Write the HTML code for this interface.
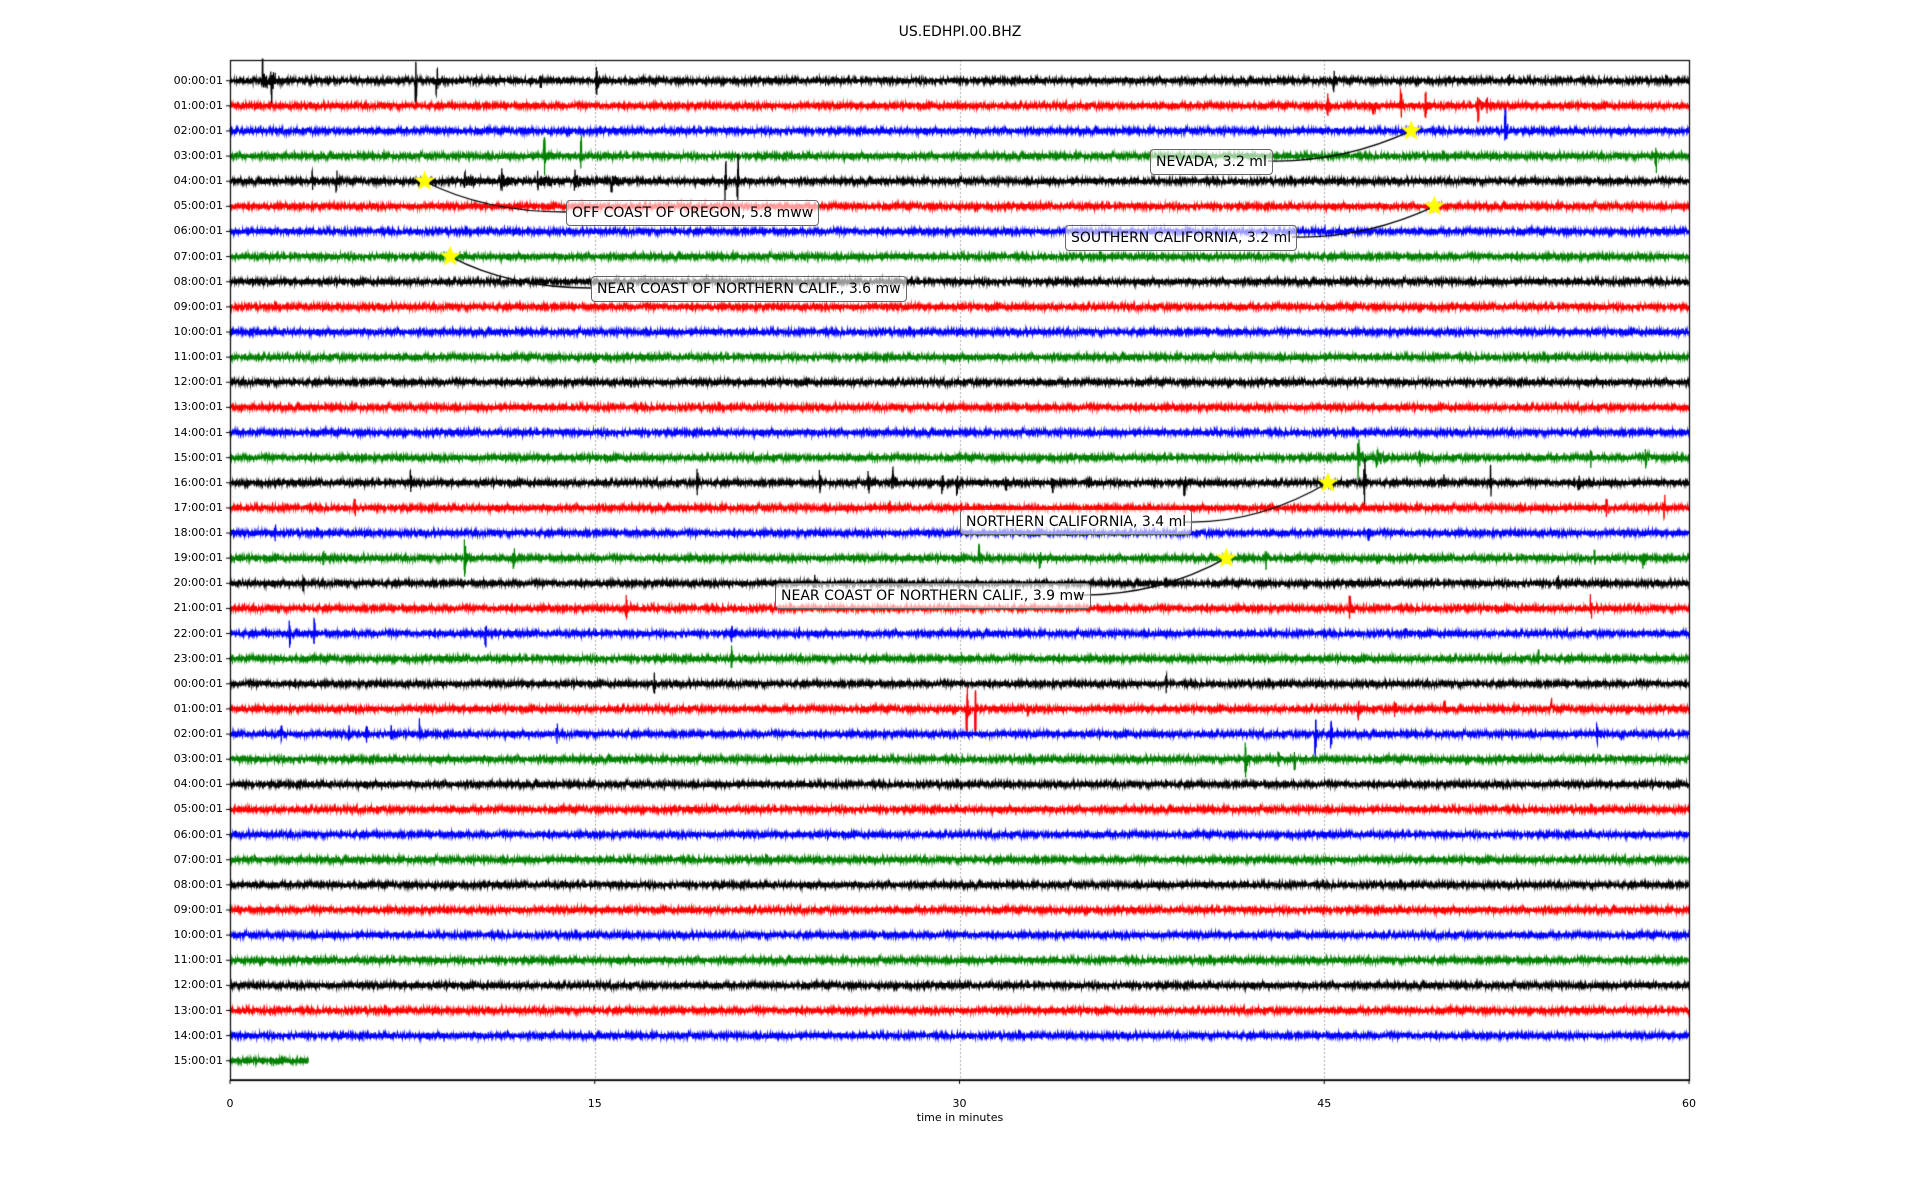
<!DOCTYPE html>
<html><head><meta charset="utf-8">
<style>
html,body{margin:0;padding:0;background:#fff;}
#c{position:absolute;left:0;top:0;}
.t{position:absolute;font-family:"DejaVu Sans","Liberation Sans",sans-serif;color:#000;white-space:nowrap;}
.lab{position:absolute;font-family:"DejaVu Sans","Liberation Sans",sans-serif;font-size:14px;line-height:14px;padding:5px 5px;border:1.3px solid #666;border-radius:4px;background:rgba(255,255,255,0.6);white-space:nowrap;}
</style></head>
<body>
<canvas id="c" width="1920" height="1200"></canvas>
<div class="t" style="left:0;width:1920px;text-align:center;top:24px;font-size:14px;">US.EDHPI.00.BHZ</div>
<div id="yl"></div>
<div class="t" style="left:900px;width:120px;text-align:center;top:1111px;font-size:11px;">time in minutes</div>
<div class="lab" style="left:1150px;top:149px;">NEVADA, 3.2 ml</div>
<div class="lab" style="left:566px;top:200px;">OFF COAST OF OREGON, 5.8 mww</div>
<div class="lab" style="left:1065px;top:225px;">SOUTHERN CALIFORNIA, 3.2 ml</div>
<div class="lab" style="left:591px;top:276px;">NEAR COAST OF NORTHERN CALIF., 3.6 mw</div>
<div class="lab" style="left:960px;top:509px;">NORTHERN CALIFORNIA, 3.4 ml</div>
<div class="lab" style="left:775px;top:583px;">NEAR COAST OF NORTHERN CALIF., 3.9 mw</div>
<script>
var L=230,R=1689,T=60,B=1080,W=R-L;
var cv=document.getElementById('c'),g=cv.getContext('2d');
function X(m){return L+m/60*W;}
function Y(i){return 80.7+i*25.13;}
function xd(d){return (d-188)/1192*60;}
var seed=12345;function rnd(){seed=(seed*1103515245+12345)&0x7fffffff;return seed/0x7fffffff;}
function gauss(){return (rnd()+rnd()+rnd()-1.5)*2.6;}
g.strokeStyle='#999';g.lineWidth=0.8;g.setLineDash([2,2]);
[15,30,45].forEach(function(m){g.beginPath();g.moveTo(Math.round(X(m))+0.5,T);g.lineTo(Math.round(X(m))+0.5,B);g.stroke();});
g.setLineDash([]);
var cols=['#000','#f00','#00f','#008000'];
var ev={0:[[215,12,8],[222,12,6],[340,14,1],[357,-10,1],[488,8,4],[442,5,2],[1090,6,3],[1233,4,1]],
1:[[1085,8,3],[1122,8,4],[1145,8,3],[1165,9,3],[1208,9,5],[1215,7,3]],
2:[[1230,14,4]],
3:[[445,10,3],[475,10,2],[1353,10,2]],
4:[[255,6,5],[275,6,3],[380,6,20],[410,6,20],[440,6,20],[470,7,15],[500,7,10],[593,14,1],[603,14,1]],
15:[[1110,12,6],[1125,8,8],[1160,6,5],[1300,5,3],[1345,6,6],[1370,6,3]],
16:[[336,6,1],[570,7,2],[670,8,2],[710,6,4],[730,8,3],[770,8,2],[782,-10,2],[822,6,2],[860,7,2],[890,6,2],[968,8,2],[1115,14,3],[1180,6,2],[1218,10,2],[1290,8,2]],
17:[[290,6,2],[727,4,2],[1313,6,2],[1360,10,2]],
18:[[225,4,2],[1118,6,2]],
19:[[265,5,4],[380,10,2],[420,6,2],[800,8,3],[850,6,2],[1035,6,2],[1303,6,1],[1343,6,1]],
20:[[248,6,2],[666,6,1],[953,4,1],[1273,6,2]],
21:[[512,8,2],[1103,8,3],[1200,4,1],[1300,8,2]],
22:[[237,8,1],[257,8,1],[397,8,1],[598,6,2],[653,4,1],[1148,4,1]],
23:[[598,6,2],[1257,6,2]],
24:[[535,6,3],[953,6,1]],
25:[[790,16,3],[797,14,2],[840,5,3],[1110,6,4],[1140,5,4],[1180,5,4],[1268,5,2]],
26:[[230,5,3],[285,5,2],[300,5,3],[320,5,2],[343,12,1],[455,6,2],[1075,12,2],[1088,8,2],[1305,6,1],[1325,4,1]],
27:[[1018,10,4],[1045,6,2],[1058,6,2]]};
g.lineWidth=1.2;
for(var i=0;i<40;i++){
  var y0=Y(i),end=(i==39)?X(xd(252)):R;
  var e=(ev[i]||[]).map(function(a){return [X(xd(a[0])),a[1],a[2]*1.24];});
  g.strokeStyle=cols[i%4];g.beginPath();
  for(var x=L;x<=end;x+=0.2){
    var v=gauss();
    for(var k=0;k<e.length;k++){var d=x-e[k][0];if(d>-1&&d<e[k][2]*2){var env=Math.exp(-Math.max(d,0)/(e[k][2]*0.6+0.3));var a=e[k][1];v+=Math.abs(a)*env*(rnd()*2-1);if(d>-1&&d<0.6)v+=a*(rnd()>0.5?1:-1)*0.9;}}
    if(x==L)g.moveTo(x,y0+v);else g.lineTo(x,y0+v);
  }
  g.stroke();
}
g.strokeStyle='#000';g.lineWidth=1.2;g.strokeRect(L+0.5,T+0.5,W,B-T);
g.lineWidth=1.6;g.beginPath();g.moveTo(L,B);g.lineTo(R,B);g.stroke();
g.lineWidth=1;
var yl='';
for(var i=0;i<40;i++){var y=Y(i);g.beginPath();g.moveTo(L-4,y);g.lineTo(L,y);g.stroke();
 var h=(i%24);var s=(h<10?'0':'')+h+':00:01';
 yl+='<div class="t" style="left:150px;width:73px;text-align:right;top:'+(y-7)+'px;font-size:11px;">'+s+'</div>';}
[0,15,30,45,60].forEach(function(m){var x=X(m);g.beginPath();g.moveTo(x,B);g.lineTo(x,B+4);g.stroke();
 yl+='<div class="t" style="left:'+(x-20)+'px;width:40px;text-align:center;top:1097px;font-size:11px;">'+m+'</div>';});
document.getElementById('yl').innerHTML=yl;
function star(cx,cy,r){g.fillStyle='#ff0';g.beginPath();for(var k=0;k<10;k++){var rr=k%2?r*0.42:r;var a=-Math.PI/2+k*Math.PI/5;g.lineTo(cx+rr*Math.cos(a),cy+rr*Math.sin(a));}g.closePath();g.fill();}
var an=[[xd(1153),2,1268,161],[xd(347),4,566,212],[xd(1172),5,1292,237],[xd(368),7,591,288],[xd(1085),16,1185,522],[xd(1002),19,1074,595]];
g.strokeStyle='#000';g.lineWidth=1.3;
an.forEach(function(a){var sx=X(a[0]),sy=Y(a[1]);g.beginPath();g.moveTo(sx,sy);
 var bx=a[2],by=a[3];
 if(bx>sx){g.quadraticCurveTo(sx+60,by,bx,by);}else{g.quadraticCurveTo(sx-70,by+2,bx,by);}
 g.stroke();});
an.forEach(function(a){star(X(a[0]),Y(a[1]),11);});
</script>
</body></html>
